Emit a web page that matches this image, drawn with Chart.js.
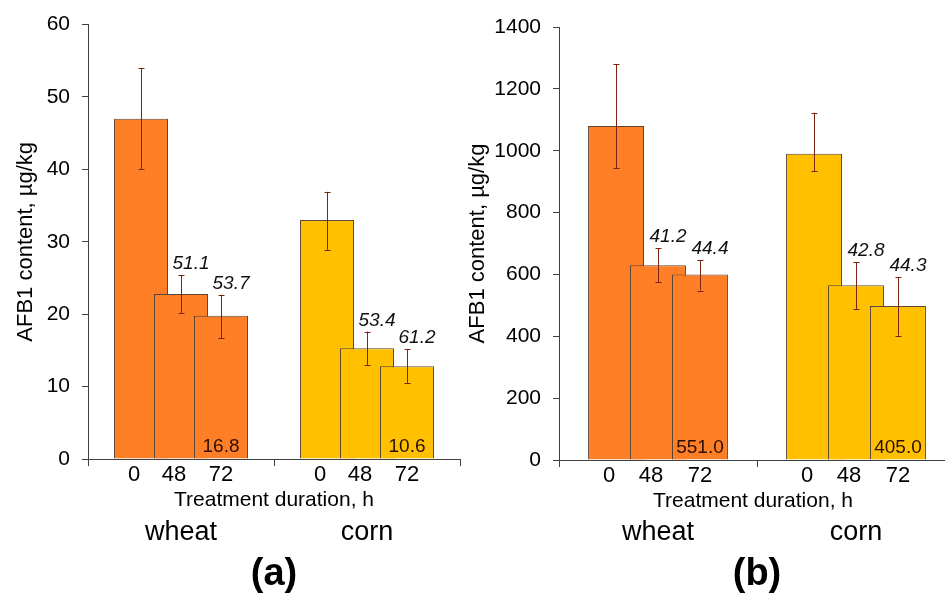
<!DOCTYPE html>
<html><head><meta charset="utf-8">
<script src="https://cdn.jsdelivr.net/npm/chart.js@4"></script>
<style>
html,body{margin:0;padding:0;overflow:hidden;background:#fff;width:945px;height:597px;position:relative}
#ca{position:absolute;left:0;top:0}
#cb{position:absolute;left:465px;top:0}
</style></head><body>
<canvas id="ca" width="465" height="597"></canvas>
<canvas id="cb" width="495" height="597"></canvas>
<script>
const categories = ['wheat', 'corn'];
const durations = ['0', '48', '72'];

// Panel (a)
const a0h = [47.0, 33.0];
const a48h = [22.8, 15.3];
const a72h = [19.8, 12.8];
const aPlus0h = [7.0, 3.9], aMinus0h = [7.0, 4.1];
const aPlus48h = [2.6, 2.3], aMinus48h = [2.7, 2.3];
const aPlus72h = [2.9, 2.4], aMinus72h = [3.1, 2.3];
const aReduction48h = ['51.1', '53.4'];
const aReduction72h = ['53.7', '61.2'];
const aBottomLabels = ['16.8', '10.6'];
const aTicks = [0, 10, 20, 30, 40, 50, 60];

// Panel (b)
const b0h = [1080, 990];
const b48h = [630, 565];
const b72h = [600, 498];
const bPlus0h = [200, 133], bMinus0h = [136, 57];
const bPlus48h = [55, 74], bMinus48h = [56, 78];
const bPlus72h = [47, 94], bMinus72h = [52, 96];
const bReduction48h = ['41.2', '42.8'];
const bReduction72h = ['44.4', '44.3'];
const bBottomLabels = ['551.0', '405.0'];
const bTicks = [0, 200, 400, 600, 800, 1000, 1200, 1400];

const FONT = "'Liberation Sans', Arial, Helvetica, sans-serif";
const grainColors = ['#FF7F27', '#FFC000'];
const edgeColor = '#5c4636';
const axisColor = '#404040';
const errColor = '#7B2412';

Chart.defaults.font.family = FONT;
Chart.defaults.color = '#000';

function panelPlugin(cfg) {
  return {
    id: 'panel' + cfg.letter,
    beforeDatasetsDraw(chart) {
      // draw datasets in index order so later durations overlap earlier ones
      const metas = chart.getSortedVisibleDatasetMetas().slice().sort((m1, m2) => m1.index - m2.index);
      metas.forEach(m => m.controller.draw());
      return false;
    },
    afterDraw(chart) {
      const ctx = chart.ctx;
      const ys = chart.scales.y;
      const area = chart.chartArea;
      ctx.save();
      const metas = chart.data.datasets.map((d, i) => chart.getDatasetMeta(i));
      // error bars
      ctx.strokeStyle = errColor;
      ctx.lineWidth = 1;
      const tops = [];
      chart.data.datasets.forEach((ds, di) => {
        tops[di] = [];
        metas[di].data.forEach((bar, j) => {
          const v = ds.data[j];
          const yt = ys.getPixelForValue(v + cfg.plus[di][j]);
          const yb = ys.getPixelForValue(v - cfg.minus[di][j]);
          tops[di][j] = yt;
          const x = Math.round(bar.x) + 0.5;
          ctx.beginPath();
          ctx.moveTo(x, yt); ctx.lineTo(x, yb);
          ctx.moveTo(x - 3, Math.round(yt) + 0.5); ctx.lineTo(x + 3, Math.round(yt) + 0.5);
          ctx.moveTo(x - 3, Math.round(yb) + 0.5); ctx.lineTo(x + 3, Math.round(yb) + 0.5);
          ctx.stroke();
        });
      });
      // reduction annotations (italic) above 48 h and 72 h bars
      ctx.fillStyle = '#111';
      ctx.font = 'italic 19px ' + FONT;
      ctx.textAlign = 'center';
      ctx.textBaseline = 'alphabetic';
      [1, 2].forEach(di => {
        metas[di].data.forEach((bar, j) => {
          ctx.fillText(cfg.reductions[di - 1][j], bar.x + 10, tops[di][j] - 6);
        });
      });
      // labels inside the 72 h bars
      ctx.font = '19px ' + FONT;
      ctx.fillStyle = '#2a1006';
      metas[2].data.forEach((bar, j) => {
        ctx.fillText(cfg.bottoms[j], bar.x, area.bottom - 7);
      });
      // duration labels under each bar (centred on the visible part)
      ctx.fillStyle = '#000';
      ctx.font = '22px ' + FONT;
      ctx.textBaseline = 'middle';
      for (let j = 0; j < categories.length; j++) {
        for (let di = 0; di < durations.length; di++) {
          const bar = metas[di].data[j];
          let cx = bar.x;
          if (di < durations.length - 1) {
            const nb = metas[di + 1].data[j];
            const left = bar.x - bar.width / 2;
            const nextLeft = nb.x - nb.width / 2;
            cx = (left + nextLeft) / 2;
          }
          ctx.fillText(durations[di], cx, area.bottom + 16);
        }
      }
      // axis caption
      ctx.font = '21px ' + FONT;
      ctx.fillText('Treatment duration, h', (area.left + area.right) / 2 + cfg.captionShift, area.bottom + 41);
      ctx.restore();
    }
  };
}

function makePanel(id, cfg) {
  const datasets = durations.map((d, i) => ({
    label: d + ' h',
    data: cfg.values[i],
    backgroundColor: grainColors,
    borderColor: edgeColor,
    borderWidth: 1,
    categoryPercentage: cfg.catPct,
    barPercentage: cfg.barPct
  }));
  return new Chart(document.getElementById(id), {
    type: 'bar',
    data: { labels: categories, datasets },
    options: {
      responsive: false,
      animation: false,
      events: [],
      layout: { padding: { top: cfg.top, right: cfg.right, left: 0, bottom: 0 } },
      plugins: { legend: { display: false }, tooltip: { enabled: false } },
      scales: {
        x: {
          grid: { offset: true, drawOnChartArea: false, drawTicks: true, tickLength: 7, color: axisColor },
          border: { color: axisColor, width: 1 },
          ticks: { font: { size: 27, lineHeight: 1.2 }, padding: cfg.xPad, color: '#000' },
          title: { display: true, text: cfg.letter, font: { size: 38, weight: 'bold', lineHeight: 1.2 }, padding: { top: 0, bottom: 0 }, color: '#000' },
          afterFit: s => { s.height = cfg.xHeight; }
        },
        y: {
          min: cfg.ticks[0],
          max: cfg.ticks[cfg.ticks.length - 1],
          afterBuildTicks: s => { s.ticks = cfg.ticks.map(v => ({ value: v })); },
          grid: { drawOnChartArea: false, drawTicks: true, tickLength: 6, color: axisColor },
          border: { color: axisColor, width: 1 },
          ticks: { font: { size: 21 }, padding: 12, color: '#000', callback: v => String(v) },
          title: { display: true, text: 'AFB1 content, µg/kg', font: { size: 22, lineHeight: 1.2 }, padding: { top: cfg.yTitlePad, bottom: 0 }, color: '#000' },
          afterFit: s => { s.width = cfg.yWidth; }
        }
      }
    },
    plugins: [panelPlugin(cfg)]
  });
}

makePanel('ca', {
  letter: '(a)',
  values: [a0h, a48h, a72h],
  plus: [aPlus0h, aPlus48h, aPlus72h],
  minus: [aMinus0h, aMinus48h, aMinus72h],
  reductions: [aReduction48h, aReduction72h],
  bottoms: aBottomLabels,
  ticks: aTicks,
  catPct: 0.645, barPct: 1.35,
  top: 22, right: 5, xHeight: 138, yWidth: 88, yTitlePad: 13, xPad: 50, captionShift: 0
});

makePanel('cb', {
  letter: '(b)',
  values: [b0h, b48h, b72h],
  plus: [bPlus0h, bPlus48h, bPlus72h],
  minus: [bMinus0h, bMinus48h, bMinus72h],
  reductions: [bReduction48h, bReduction72h],
  bottoms: bBottomLabels,
  ticks: bTicks,
  catPct: 0.636, barPct: 1.333,
  top: 27, right: 5, xHeight: 137, yWidth: 94, yTitlePad: 0, xPad: 49, captionShift: -4
});
</script>
</body></html>
